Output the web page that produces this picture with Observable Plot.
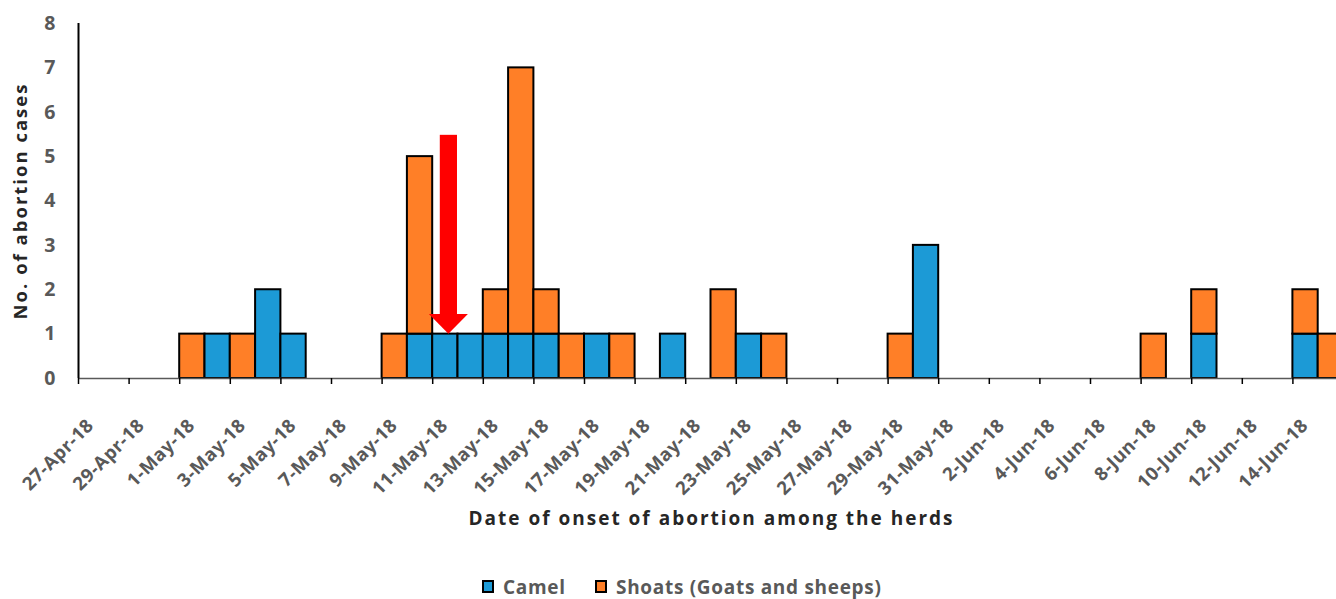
<!DOCTYPE html>
<html>
<head>
<meta charset="utf-8">
<script src="https://cdn.jsdelivr.net/npm/d3@7"></script>
<script src="https://cdn.jsdelivr.net/npm/@observablehq/plot@0.6"></script>
<style>
  html, body { margin: 0; padding: 0; background: #fff; overflow: hidden; }
  body { width: 1336px; height: 599px; position: relative; font-family: "Open Sans", sans-serif; }
  #legend { position: absolute; left: 0; top: 0; width: 1336px; height: 599px; pointer-events: none;
            font-family: "Open Sans", sans-serif; font-weight: bold; font-size: 19px; letter-spacing: 0.7px; color: #595959; }
  #legend .sw { position: absolute; top: 580px; width: 8px; height: 9px; border: 2px solid #000; }
  #legend .lb { position: absolute; top: 574px; line-height: 26px; white-space: nowrap; }
</style>
</head>
<body>
<div id="chart"></div>
<div id="legend"></div>
<script>
// ---- data ----
const onsetDates = ["2018-05-01","2018-05-02","2018-05-03","2018-05-04","2018-05-05",
  "2018-05-09","2018-05-10","2018-05-11","2018-05-12","2018-05-13","2018-05-14","2018-05-15",
  "2018-05-16","2018-05-17","2018-05-18","2018-05-20","2018-05-22","2018-05-23","2018-05-24",
  "2018-05-29","2018-05-30","2018-06-08","2018-06-10","2018-06-14","2018-06-15"];
const camelCases  = [0,1,0,2,1, 0,1,1,1,1,1,1, 0,1,0,1,0,1,0, 0,3,0,1,1,0];
const shoatsCases = [1,0,1,0,0, 1,4,0,0,1,6,1, 1,0,1,0,2,0,1, 1,0,1,1,1,1];
const seriesNames = ["Camel", "Shoats (Goats and sheeps)"];
const seriesColors = ["#1C9AD6", "#FF7F27"];
const tickDates = ["2018-04-27","2018-04-29","2018-05-01","2018-05-03","2018-05-05","2018-05-07",
  "2018-05-09","2018-05-11","2018-05-13","2018-05-15","2018-05-17","2018-05-19","2018-05-21",
  "2018-05-23","2018-05-25","2018-05-27","2018-05-29","2018-05-31","2018-06-02","2018-06-04",
  "2018-06-06","2018-06-08","2018-06-10","2018-06-12","2018-06-14"];
const yTicks = [0,1,2,3,4,5,6,7,8];
const xTitle = "Date of onset of abortion among the herds";
const yTitle = "No. of abortion cases";
// annotation arrow (in data units: day offset from 27-Apr, case counts)
const arrowCenterDay = 14.64, arrowShaftHalf = 0.34, arrowHeadHalf = 0.77;
const arrowTipY = 1.0, arrowHeadBaseY = 1.44, arrowTopY = 5.48;

// ---- build table ----
const parse = d3.utcParse("%Y-%m-%d");
const start = parse("2018-04-27");
const dayAt = k => new Date(+start + k * 864e5);
const rows = [];
onsetDates.forEach((d, i) => {
  const t = parse(d);
  if (camelCases[i] > 0) rows.push({date: t, end: d3.utcDay.offset(t, 1), series: seriesNames[0], n: camelCases[i]});
  if (shoatsCases[i] > 0) rows.push({date: t, end: d3.utcDay.offset(t, 1), series: seriesNames[1], n: shoatsCases[i]});
});
const ticks = tickDates.map(parse);
const fmt = d3.utcFormat("%-d-%b-%y");
const tickLabels = new Set(ticks.map(fmt));

const arrowShaft = [{x1: dayAt(arrowCenterDay - arrowShaftHalf), x2: dayAt(arrowCenterDay + arrowShaftHalf), y1: arrowHeadBaseY, y2: arrowTopY}];
const arrowHead = [
  {x: dayAt(arrowCenterDay - arrowHeadHalf), y1: arrowHeadBaseY, y2: arrowHeadBaseY},
  {x: dayAt(arrowCenterDay), y1: arrowTipY, y2: arrowHeadBaseY},
  {x: dayAt(arrowCenterDay + arrowHeadHalf), y1: arrowHeadBaseY, y2: arrowHeadBaseY}
];

const H = 545;
const chart = Plot.plot({
  width: 1336,
  height: H,
  marginLeft: 78,
  marginRight: 0,
  marginTop: 23,
  marginBottom: H - 378,
  style: {fontFamily: "'Open Sans', sans-serif", background: "white", overflow: "hidden"},
  x: {type: "utc", domain: [start, dayAt(50)], range: [78, 1343]},
  y: {domain: [0, 8]},
  color: {domain: seriesNames, range: seriesColors},
  marks: [
    Plot.rectY(rows, Plot.stackY({x1: "date", x2: "end", x: "date", y: "n", fill: "series", stroke: "black", strokeWidth: 2,
      order: seriesNames})),
    Plot.ruleY([0], {stroke: "#595959", strokeWidth: 1.5}),
    Plot.ruleX([start], {y1: 0, y2: 8, stroke: "black", strokeWidth: 2}),
    // tick marks
    Plot.axisX({ticks: ticks, tickFormat: () => "", tickSize: 6, stroke: "black", strokeWidth: 1.5, label: null}),
    // rotated tick labels
    Plot.axisX({ticks: ticks, tickFormat: fmt, tickRotate: -45, tickSize: 0, tickPadding: 10, dx: 12, dy: 34,
      color: "#595959", fontSize: 18.5, fontWeight: "bold", label: null}),
    Plot.axisY({ticks: yTicks, tickSize: 0, tickPadding: 21, color: "#595959", fontSize: 19.5, fontWeight: "bold", label: null}),
    Plot.text([xTitle], {frameAnchor: "bottom", dx: 4, dy: 146, fontSize: 19, fontWeight: "bold", fill: "#262626"}),
    Plot.text([yTitle], {frameAnchor: "left", textAnchor: "middle", rotate: -90, dx: -57, fontSize: 18.5, fontWeight: "bold", fill: "#262626"}),
    Plot.rect(arrowShaft, {x1: "x1", x2: "x2", y1: "y1", y2: "y2", fill: "#FF0000"}),
    Plot.areaY(arrowHead, {x: "x", y1: "y1", y2: "y2", fill: "#FF0000"})
  ]
});
// wide letter spacing like the original rendering
d3.select(chart).selectAll("text").style("letter-spacing", function() {
  return tickLabels.has(this.textContent) ? "0.5px" : "2px";
});
document.getElementById("chart").appendChild(chart);

const legend = document.getElementById("legend");
const legendSwatchLeft = [482, 595], legendLabelLeft = [503, 616];
seriesNames.forEach((name, i) => {
  const sw = document.createElement("span");
  sw.className = "sw";
  sw.style.background = seriesColors[i];
  sw.style.left = legendSwatchLeft[i] + "px";
  const label = document.createElement("span");
  label.className = "lb";
  label.style.left = legendLabelLeft[i] + "px";
  label.textContent = name;
  legend.appendChild(sw); legend.appendChild(label);
});
</script>
</body>
</html>
